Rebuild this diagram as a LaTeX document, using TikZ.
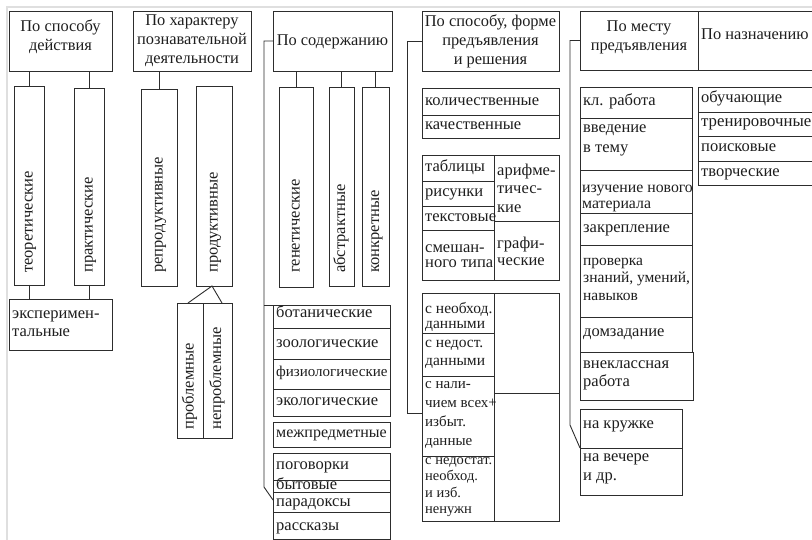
\documentclass[tikz,border=0pt]{standalone}
\usepackage{fontspec}
\setmainfont{Liberation Serif}
\usetikzlibrary{calc}
\definecolor{ln}{RGB}{45,45,45}
\definecolor{tx}{RGB}{30,30,30}
\begin{document}
\begin{tikzpicture}[x=1pt,y=-1pt,
  box/.style={draw=ln, line width=0.9pt, inner sep=0pt, outer sep=0pt, anchor=north west},
  con/.style={draw=ln, line width=0.9pt},
  hd/.style={text=tx, inner sep=0pt, align=center, font={\fontsize{16.4}{19}\selectfont}},
  rt/.style={text=tx, inner sep=0pt, anchor=west, text height=11pt, text depth=4pt, font={\fontsize{16.5}{19}\selectfont}},
  ml/.style={text=tx, inner sep=0pt, anchor=west, align=left, font={\fontsize{16.5}{#1}\selectfont}},
  vt/.style={text=tx, inner sep=0pt, anchor=west, rotate=90, text height=11pt, text depth=4pt, font={\fontsize{16.5}{19}\selectfont}}]
\useasboundingbox (0,0) rectangle (812,540);
\clip (0,0) rectangle (812,540);
\fill[white] (0,0) rectangle (812,540);
\draw[gray!25, line width=1.2pt] (7,540) -- (7,7) -- (812,7);

% ---------- column 1
\node[box, minimum width=103, minimum height=60] (h1) at (9,11) {};
\node[hd] at (60.5,37) {По способу\\действия};
\node[box, minimum width=30, minimum height=199] (t1) at (14,86) {};
\node[box, minimum width=30, minimum height=197] (t2) at (74,88) {};
\node[box, minimum width=103, minimum height=51] (ex) at (9,299) {};
\node[vt] at (29,273) {теоретические};
\node[vt] at (89,273) {практические};
\node[ml=18] at (12,324) {эксперимен-\\тальные};
\draw[con] (t1.north) -- (t1.north |- h1.south);
\draw[con] (t2.north) -- (t2.north |- h1.south);
\draw[con] (t1.south) -- (t1.south |- ex.north);
\draw[con] (t2.south) -- (t2.south |- ex.north);

% ---------- column 2
\node[box, minimum width=118, minimum height=60] (h2) at (133,11) {};
\node[hd] at (192,41) {По характеру\\познавательной\\деятельности};
\node[box, minimum width=36, minimum height=197] (r1) at (141,89) {};
\node[box, minimum width=36, minimum height=200] (r2) at (196,86) {};
\node[vt] at (159,273) {репродуктивные};
\node[vt] at (214,273) {продуктивные};
\node[box, minimum width=26, minimum height=135] (pb) at (177,303) {};
\node[box, minimum width=29, minimum height=135] (np) at (203,303) {};
\node[vt] at (190,430) {проблемные};
\node[vt] at (217.5,430) {непроблемные};
\draw[con] (r1.north) -- (r1.north |- h2.south);
\draw[con] ($(r2.north)+(-2,0)$) -- ($(r2.north)+(-2,0)$ |- h2.south);
\draw[con] ($(pb.north)+(-2,0)$) -- ($(r2.south)+(-2,0)$) -- ($(np.north)+(4.5,0)$);

% ---------- column 3
\node[box, minimum width=119, minimum height=60] (h3) at (273,11) {};
\node[hd] at (332.5,42) {По содержанию};
\node[box, minimum width=34, minimum height=200] (g1) at (279,87) {};
\node[box, minimum width=25, minimum height=199] (g2) at (329,87) {};
\node[box, minimum width=27, minimum height=199] (g3) at (362,87) {};
\node[vt] at (296,273) {генетические};
\node[vt] at (341.5,273) {абстрактные};
\node[vt] at (375.5,273) {конкретные};
\draw[con] (g1.north) -- (g1.north |- h3.south);
\draw[con] (g2.north) -- (g2.north |- h3.south);
\draw[con] (g3.north) -- (g3.north |- h3.south);
\node[box, minimum width=117, minimum height=23] (bot) at (273,305) {};
\node[box, minimum width=117, minimum height=31] (zoo) at (273,328) {};
\node[box, minimum width=117, minimum height=30] (fiz) at (273,359) {};
\node[box, minimum width=117, minimum height=27] (eko) at (273,389) {};
\node[box, minimum width=117, minimum height=25] (mez) at (273,422) {};
\node[box, minimum width=117, minimum height=27] (pog) at (273,453) {};
\node[box, minimum width=117, minimum height=12] (byt) at (273,480) {};
\node[box, minimum width=117, minimum height=20] (par) at (273,492) {};
\node[box, minimum width=117, minimum height=27.5] (ras) at (273,512) {};
\node[rt] at (276,314) {ботанические};
\node[rt] at (276,344) {зоологические};
\node[rt, font={\fontsize{15}{19}\selectfont}] at (276,373) {физиологические};
\node[rt] at (276,402) {экологические};
\node[rt, font={\fontsize{16}{19}\selectfont}] at (276,434) {межпредметные};
\node[rt] at (276,466) {поговорки};
\node[rt] at (276,486) {бытовые};
\node[rt] at (276,503) {парадоксы};
\node[rt] at (276,527) {рассказы};
\coordinate (cb) at (264,487);
\draw[con] (h3.west) -| (cb) -- ($(par.north west)+(0,8)$);
\draw[con] (bot.north west) -- (bot.north west -| cb);
\draw[con] ($(zoo.west)+(0,6.5)$) -- ($(zoo.west)+(0,6.5)$ -| cb);
\draw[con] ($(fiz.west)+(0,3)$) -- ($(fiz.west)+(0,3)$ -| cb);
\draw[con] ($(eko.west)+(0,-3.5)$) -- ($(eko.west)+(0,-3.5)$ -| cb);
\draw[con] ($(mez.west)+(0,-2.5)$) -- ($(mez.west)+(0,-2.5)$ -| cb);

% ---------- column 4
\node[box, minimum width=137, minimum height=60] (h4) at (422,11) {};
\node[hd] at (490.5,41) {По способу, форме\\предъявления\\и решения};
\node[box, minimum width=137, minimum height=27] (kol) at (422,88) {};
\node[box, minimum width=137, minimum height=23] (kach) at (422,115) {};
\node[rt] at (425,102) {количественные};
\node[rt] at (425,126) {качественные};
\draw[con] ($(kol.north)+(-3.5,0)$) -- ($(kol.north)+(-3.5,0)$ |- h4.south);
\node[box, minimum width=72, minimum height=26] (tab) at (422,155) {};
\node[box, minimum width=72, minimum height=25] (ris) at (422,181) {};
\node[box, minimum width=72, minimum height=24] (tek) at (422,206) {};
\node[box, minimum width=72, minimum height=50] (sme) at (422,230) {};
\node[box, minimum width=65, minimum height=66] (ari) at (494,155) {};
\node[box, minimum width=65, minimum height=59] (gra) at (494,221) {};
\node[rt] at (425,168) {таблицы};
\node[rt] at (425,193) {рисунки};
\node[rt] at (425,218) {текстовые};
\node[ml=15] at (425,256) {смешан-\\ного типа};
\node[ml=18.5] at (497,188) {арифме-\\тичес-\\кие};
\node[ml=17] at (497,251.5) {графи-\\ческие};
\node[box, minimum width=72, minimum height=40] (n1) at (422,293) {};
\node[box, minimum width=72, minimum height=43] (n2) at (422,333) {};
\node[box, minimum width=72, minimum height=80] (n3) at (422,376) {};
\node[box, minimum width=72, minimum height=65] (n4) at (422,456) {};
\node[box, minimum width=65, minimum height=100] (e1) at (494,293) {};
\node[box, minimum width=65, minimum height=128] (e2) at (494,393) {};
\node[ml=15, font={\fontsize{15.5}{15}\selectfont}] at (425,317) {с необход.\\данными};
\node[ml=18, font={\fontsize{15.5}{18}\selectfont}] at (425,354) {с недост.\\данными};
\node[ml=19, font={\fontsize{15}{19}\selectfont}] at (425,415) {с нали-\\чием всех+\\избыт.\\данные};
\node[ml=17, font={\fontsize{14.5}{16.5}\selectfont}] at (425,487) {с недостат.\\необход.\\и изб.\\ненужн};
\coordinate (db) at (407,413);
\draw[con] (h4.west) -| (db) -- (db -| n3.west);

% ---------- column 5
\node[box, minimum width=118, minimum height=59] (h5) at (580,11) {};
\node[box, minimum width=130, minimum height=59] (h6) at (698,11) {};
\node[hd] at (639,37) {По месту\\предъявления};
\node[hd, anchor=west] at (701,34) {По назначению};
\node[box, minimum width=112, minimum height=31] (kl) at (580,87) {};
\node[box, minimum width=112, minimum height=52] (vv) at (580,118) {};
\node[box, minimum width=112, minimum height=43] (iz) at (580,170) {};
\node[box, minimum width=112, minimum height=32] (zak) at (580,213) {};
\node[box, minimum width=112, minimum height=72] (pro) at (580,245) {};
\node[box, minimum width=112, minimum height=35] (dom) at (580,317) {};
\node[box, minimum width=113, minimum height=48] (vne) at (580,352) {};
\node[box, minimum width=102, minimum height=39] (kru) at (580,409) {};
\node[box, minimum width=102, minimum height=47] (vech) at (580,448) {};
\node[rt] at (583,102) {кл. работа};
\node[ml=20] at (583,140) {введение\\в тему};
\node[ml=16, font={\fontsize{15.8}{16}\selectfont}] at (582,198) {изучение нового\\материала};
\node[rt] at (583,229) {закрепление};
\node[ml=17.5, font={\fontsize{15.5}{17.5}\selectfont}] at (583,279) {проверка\\знаний, умений,\\навыков};
\node[rt] at (583,333) {домзадание};
\node[ml=18] at (583,375) {внеклассная\\работа};
\node[rt] at (583,425) {на кружке};
\node[ml=19] at (583,469) {на вечере\\и др.};
\node[box, minimum width=130, minimum height=25] (ob) at (698,87) {};
\node[box, minimum width=130, minimum height=24] (tr) at (698,112) {};
\node[box, minimum width=130, minimum height=25] (poi) at (698,136) {};
\node[box, minimum width=130, minimum height=24] (tv) at (698,161) {};
\node[rt] at (701,99) {обучающие};
\node[rt, font={\fontsize{16.8}{19}\selectfont}] at (701,123) {тренировочные};
\node[rt] at (701,148) {поисковые};
\node[rt] at (701,173) {творческие};
\coordinate (eb) at (570,425);
\draw[con] (h5.west) -| (eb) -- (kru.south west);
\end{tikzpicture}
\end{document}
